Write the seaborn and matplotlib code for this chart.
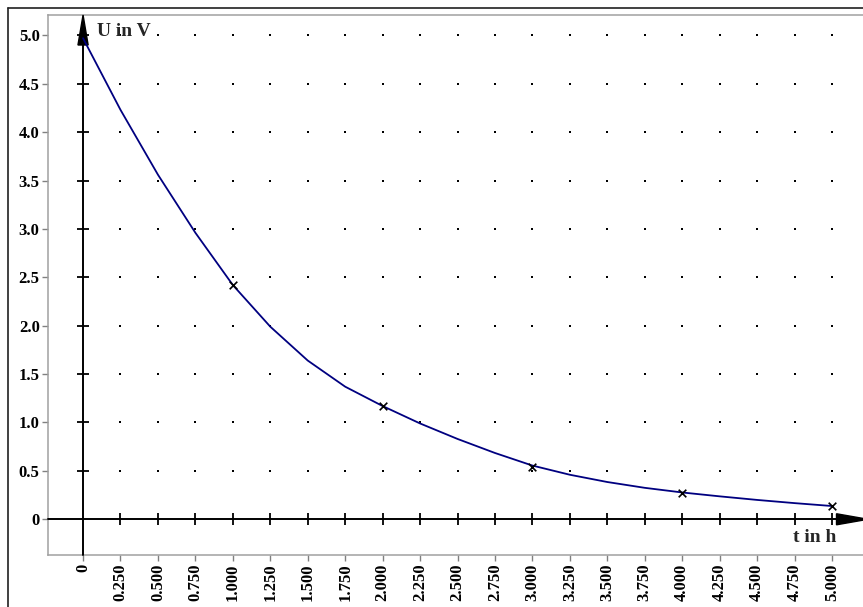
import numpy as np
import pandas as pd
import matplotlib
matplotlib.use("Agg")
import matplotlib.pyplot as plt
import seaborn as sns

sns.set_style("ticks")
plt.rcParams['font.family'] = ['Liberation Serif', 'DejaVu Serif']
plt.rcParams['font.weight'] = 'bold'

# Curve (t in h, U in V)
curve_t = [0, 0.25, 0.5, 0.75, 1.0, 1.25, 1.5, 1.75, 2.0, 2.25, 2.5,
           2.75, 3.0, 3.25, 3.5, 3.75, 4.0, 4.25, 4.5, 4.75, 5.0]
curve_u = [4.97, 4.23, 3.56, 2.96, 2.42, 1.99, 1.64, 1.37, 1.17, 0.99, 0.83,
           0.685, 0.555, 0.46, 0.385, 0.325, 0.277, 0.237, 0.200, 0.167, 0.137]

# measured points (crosses)
meas_t = [1, 2, 3, 4, 5]
meas_u = [2.42, 1.17, 0.54, 0.275, 0.137]

xticks = [0, 0.25, 0.5, 0.75, 1.0, 1.25, 1.5, 1.75, 2.0, 2.25, 2.5,
          2.75, 3.0, 3.25, 3.5, 3.75, 4.0, 4.25, 4.5, 4.75, 5.0]
xtick_labels = ["0", "0.250", "0.500", "0.750", "1.000", "1.250", "1.500",
                "1.750", "2.000", "2.250", "2.500", "2.750", "3.000", "3.250",
                "3.500", "3.750", "4.000", "4.250", "4.500", "4.750", "5.000"]
yticks = [0, 0.5, 1.0, 1.5, 2.0, 2.5, 3.0, 3.5, 4.0, 4.5, 5.0]
ytick_labels = ["0", "0.5", "1.0", "1.5", "2.0", "2.5", "3.0", "3.5",
                "4.0", "4.5", "5.0"]

curve = pd.DataFrame({"t": curve_t, "U": curve_u})
meas = pd.DataFrame({"t": meas_t, "U": meas_u})

W, H = 863, 607
fig = plt.figure(figsize=(W / 100, H / 100), dpi=100)
ax = fig.add_axes([48 / W, 52 / H, 827 / W, 540 / H])

xmin, xmax = -0.234, 5.287
ymin, ymax = -0.369, 5.21
ax.set_xlim(xmin, xmax)
ax.set_ylim(ymin, ymax)

# dotted grid
gx, gy = np.meshgrid(xticks[1:], yticks[1:])
ax.scatter(gx.ravel(), gy.ravel(), s=2, marker='s', color='black',
           linewidths=0, zorder=1)

# coordinate axes with arrows
ax.plot([0, 0], [ymin, 4.9], color='black', lw=1.4, zorder=3, clip_on=False)
ax.fill([-0.034, 0.034, 0], [4.9, 4.9, ymax], color='black', zorder=3,
        clip_on=False)
ax.plot([xmin, 5.03], [0, 0], color='black', lw=1.4, zorder=3, clip_on=False)
ax.fill([5.03, 5.03, 5.24], [-0.057, 0.057, 0], color='black', zorder=3,
        clip_on=False)

# small cross ticks on the axes
ax.plot(np.zeros(len(yticks) - 1), yticks[1:], ls='none', marker='_',
        ms=8, mew=1.3, color='black', zorder=3)
ax.plot(xticks[1:], np.zeros(len(xticks) - 1), ls='none', marker='|',
        ms=8, mew=1.3, color='black', zorder=3)

sns.lineplot(data=curve, x="t", y="U", ax=ax, color='#000080', lw=1.3,
             zorder=4)
sns.scatterplot(data=meas, x="t", y="U", ax=ax, marker='x', color='black',
                s=30, linewidth=1.2, zorder=5)

ax.set_xticks(xticks)
ax.set_xticklabels(xtick_labels, rotation=90, ha='center', va='top')
ax.set_yticks(yticks)
ax.set_yticklabels(ytick_labels)
ax.tick_params(axis='both', direction='out', length=4, width=1,
               color='#808080', labelsize=12, labelcolor='black', pad=2)
ax.set_xlabel("")
ax.set_ylabel("")

for s in ax.spines.values():
    s.set_color('#a0a0a0')
    s.set_linewidth(1.1)

ax.text(0.093, 4.99, "U in V", fontsize=14, fontweight='bold', ha='left',
        va='baseline', zorder=6)
ax.text(5.03, -0.23, "t in h", fontsize=14, fontweight='bold', ha='right',
        va='baseline', zorder=6)

# outer frame of the screenshot
fig.add_artist(plt.Line2D([8 / W, 8 / W], [0, 1 - 8 / H],
                          transform=fig.transFigure, color='#202020', lw=1.2))
fig.add_artist(plt.Line2D([8 / W, 1], [1 - 8 / H, 1 - 8 / H],
                          transform=fig.transFigure, color='#202020', lw=1.2))

fig.savefig("out.png", dpi=100)
